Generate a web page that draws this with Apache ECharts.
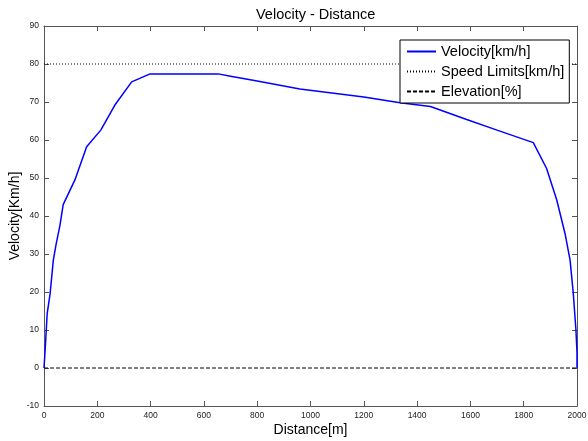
<!DOCTYPE html>
<html>
<head>
<meta charset="utf-8">
<title>Velocity - Distance</title>
<script src="https://cdn.jsdelivr.net/npm/echarts@6/dist/echarts.min.js"></script>
<style>
	html, body { margin: 0; padding: 0; background: #fff; }
	#chart { width: 588px; height: 441px; }
</style>
</head>
<body>
<div id="chart"></div>
<script>
	// distance [m] / velocity [km/h]
	var distance = [0, 5, 12, 23, 35, 45, 60, 72, 116, 160, 213, 266, 329, 398, 654, 700, 800, 960, 1200, 1336, 1450, 1586, 1700, 1836, 1886, 1924, 1955, 1974, 1986, 1996, 2000, 2000];
	var velocity = [0, 5.6, 14.4, 19.6, 28.4, 32.4, 37.6, 43, 49.5, 58.2, 62.6, 69.2, 75.3, 77.4, 77.4, 76.8, 75.5, 73.4, 71.3, 69.8, 68.8, 65.4, 62.6, 59.3, 52.5, 44.2, 35.4, 28.4, 19.7, 10, 4, 0];
	var speedLimit = [[0, 80], [2000, 80]];
	var elevation = [[0, 0], [2000, 0]];

	var velocityData = distance.map(function (d, i) { return [d, velocity[i]]; });

	var chart = echarts.init(document.getElementById('chart'));
	var axisColor = '#555';
	var labelStyle = { fontFamily: 'Liberation Sans', fontSize: 8.5, color: '#222', formatter: function (v) { return String(v); } };

	chart.setOption({
		animation: false,
		title: {
			text: 'Velocity - Distance',
			left: 251,
			top: 2,
			textStyle: { fontFamily: 'Liberation Sans', fontSize: 14.5, fontWeight: 'normal', color: '#000' }
		},
		legend: {
			orient: 'vertical',
			left: 400,
			top: 40,
			padding: [4, 5, 4, 6],
			itemGap: 5,
			itemWidth: 29,
			itemHeight: 14,
			borderColor: '#000',
			borderWidth: 1,
			borderRadius: 0,
			backgroundColor: '#fff',
			itemStyle: { opacity: 0 },
			textStyle: { fontFamily: 'Liberation Sans', fontSize: 14.5, color: '#000' },
			data: ['Velocity[km/h]', 'Speed Limits[km/h]', 'Elevation[%]']
		},
		grid: { left: 44, right: 11, top: 26, bottom: 35, containLabel: false, outerBoundsMode: 'none' },
		xAxis: [{
			type: 'value',
			min: 0, max: 2000, interval: 200,
			name: 'Distance[m]',
			nameLocation: 'middle',
			nameGap: 17,
			nameMoveOverlap: false,
			nameTextStyle: { fontFamily: 'Liberation Sans', fontSize: 14, color: '#000' },
			axisLine: { onZero: false, lineStyle: { color: axisColor } },
			axisTick: { inside: true, length: 5, lineStyle: { color: axisColor } },
			axisLabel: Object.assign({ margin: 5 }, labelStyle),
			splitLine: { show: false }
		}, {
			type: 'value',
			position: 'top',
			min: 0, max: 2000, interval: 200,
			axisLine: { show: true, onZero: false, lineStyle: { color: axisColor } },
			axisTick: { show: true, inside: true, length: 5, lineStyle: { color: axisColor } },
			axisLabel: { show: false },
			splitLine: { show: false }
		}],
		yAxis: [{
			type: 'value',
			min: -10, max: 90, interval: 10,
			name: 'Velocity[Km/h]',
			nameLocation: 'middle',
			nameGap: 22,
			nameMoveOverlap: false,
			nameTextStyle: { fontFamily: 'Liberation Sans', fontSize: 14, color: '#000' },
			axisLine: { show: true, onZero: false, lineStyle: { color: axisColor } },
			axisTick: { show: true, inside: true, length: 5, lineStyle: { color: axisColor } },
			axisLabel: Object.assign({ margin: 5 }, labelStyle),
			splitLine: { show: false }
		}, {
			type: 'value',
			position: 'right',
			min: -10, max: 90, interval: 10,
			axisLine: { show: true, onZero: false, lineStyle: { color: axisColor } },
			axisTick: { show: true, inside: true, length: 5, lineStyle: { color: axisColor } },
			axisLabel: { show: false },
			splitLine: { show: false }
		}],
		series: [{
			name: 'Velocity[km/h]',
			type: 'line',
			symbol: 'none',
			color: '#0000ff',
			lineStyle: { color: '#0000ff', width: 1.5 },
			data: velocityData,
			z: 3
		}, {
			name: 'Speed Limits[km/h]',
			type: 'line',
			symbol: 'none',
			color: '#000',
			lineStyle: { color: '#000', width: 1, type: [1, 2] },
			data: speedLimit
		}, {
			name: 'Elevation[%]',
			type: 'line',
			symbol: 'none',
			color: '#000',
			lineStyle: { color: '#000', width: 1, type: [4, 2] },
			data: elevation
		}]
	});
</script>
</body>
</html>
